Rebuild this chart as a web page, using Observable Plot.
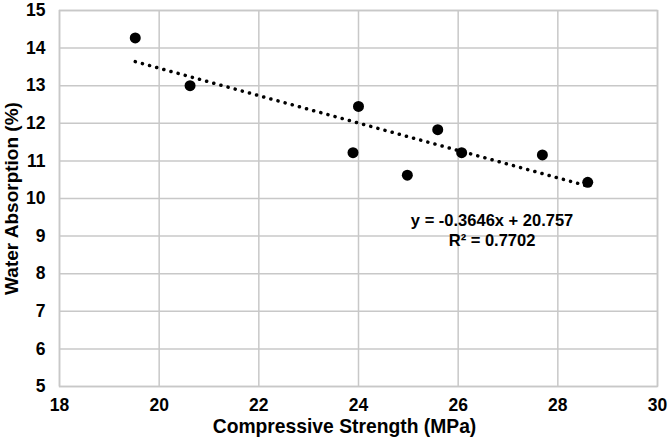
<!DOCTYPE html>
<html>
<head>
<meta charset="utf-8">
<script src="https://cdn.jsdelivr.net/npm/d3@7"></script>
<script src="https://cdn.jsdelivr.net/npm/@observablehq/plot@0.6"></script>
<style>
  body { margin: 0; background: #fff; }
  #chart svg { display: block; }
</style>
</head>
<body>
<div id="chart"></div>
<script>
const strength = [19.52, 20.62, 24.0, 23.89, 24.98, 25.59, 26.07, 27.69, 28.6];
const absorption = [14.27, 13.0, 12.45, 11.22, 10.62, 11.83, 11.22, 11.16, 10.43];
const trendX = [19.52, 28.6];
const trendY = [13.64, 10.33];
const xTicks = [18, 20, 22, 24, 26, 28, 30];
const yTicks = [5, 6, 7, 8, 9, 10, 11, 12, 13, 14, 15];
const equation = ["y = -0.3646x + 20.757", "R² = 0.7702"];
const eqPos = {x: 26.68, y: [9.41, 8.88]};

const points = strength.map((x, i) => ({x, y: absorption[i]}));
const trend = trendX.map((x, i) => ({x, y: trendY[i]}));
const labels = equation.map((t, i) => ({x: eqPos.x, y: eqPos.y[i], t}));

const grid = "#c8c8c8";
const ink = "#000";
const chart = Plot.plot({
  width: 669,
  height: 444,
  marginLeft: 59,
  marginRight: 12,
  marginTop: 10,
  marginBottom: 58,
  style: {fontFamily: "'Liberation Sans', Arial, sans-serif", fontWeight: "bold", fontSize: "17.5px", color: ink, background: "#fff"},
  x: {domain: [18, 30], axis: null},
  y: {domain: [5, 15], axis: null},
  marks: [
    Plot.gridX(xTicks, {stroke: grid, strokeOpacity: 1, strokeWidth: 1.5}),
    Plot.gridY(yTicks, {stroke: grid, strokeOpacity: 1, strokeWidth: 1.5}),
    Plot.frame({stroke: grid, strokeWidth: 1.5}),
    Plot.text(xTicks, {x: d => d, frameAnchor: "bottom", lineAnchor: "middle", dy: 19, fontSize: 17.5, fontWeight: "bold", fill: ink}),
    Plot.text(yTicks, {y: d => d, frameAnchor: "left", textAnchor: "end", dx: -14, fontSize: 17.5, fontWeight: "bold", fill: ink}),
    Plot.line(trend, {x: "x", y: "y", stroke: "#000", strokeWidth: 3.5, strokeDasharray: "0.1 7.3", strokeLinecap: "round"}),
    Plot.dot(points, {x: "x", y: "y", r: 5.5, fill: "#000", stroke: null}),
    Plot.text(labels, {x: "x", y: "y", text: "t", fontSize: 16.5, fontWeight: "bold", fill: ink}),
    Plot.text(["Compressive Strength (MPa)"], {frameAnchor: "bottom", dx: -14, dy: 46, fontSize: 19.3, fontWeight: "bold", fill: ink}),
    Plot.text(["Water Absorption (%)"], {frameAnchor: "left", textAnchor: "middle", dx: -48, rotate: -90, fontSize: 19, fontWeight: "bold", fill: ink})
  ]
});
document.getElementById("chart").appendChild(chart);
</script>
</body>
</html>
